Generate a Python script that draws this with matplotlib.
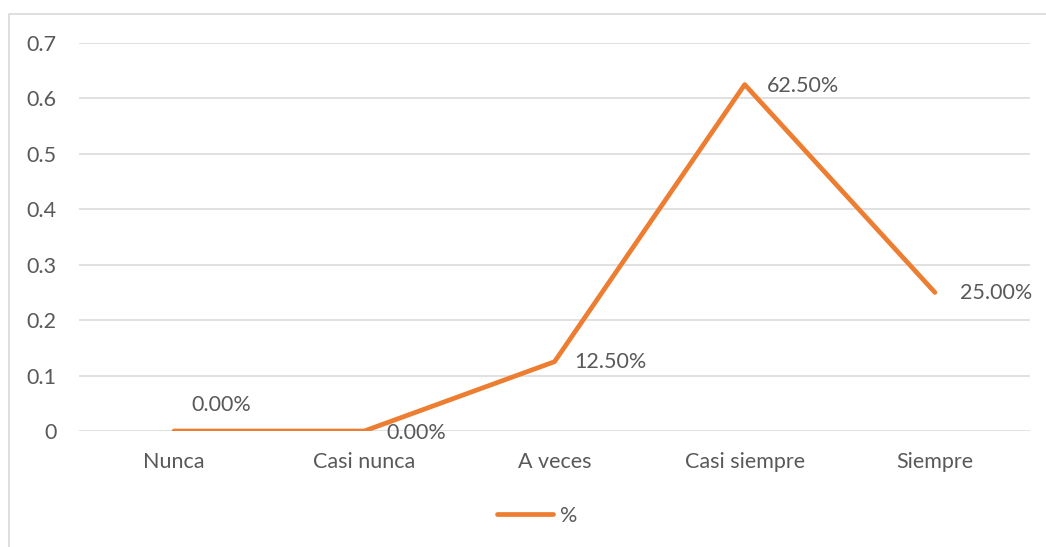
import numpy as np
import matplotlib.pyplot as plt
from matplotlib.lines import Line2D

categories = ['Nunca', 'Casi nunca', 'A veces', 'Casi siempre', 'Siempre']
values = [0.0, 0.0, 0.125, 0.625, 0.25]
labels = ['0.00%', '0.00%', '12.50%', '62.50%', '25.00%']
# label offsets in pixels (dx, dy) from the point, as placed in the original
label_offsets = [(47, 26), (52, -2), (56, 0), (58, -1), (61, -1)]
yticks = [0, 0.1, 0.2, 0.3, 0.4, 0.5, 0.6, 0.7]

text_color = '#595959'
grid_color = '#D9D9D9'
line_color = '#ED7D31'

plt.rcParams['font.family'] = ['Lato', 'DejaVu Sans']

W, H = 1046, 547
fig = plt.figure(figsize=(W / 100, H / 100), dpi=100)
ax = fig.add_axes([79 / W, (H - 431) / H, (1030 - 79) / W, (431 - 43) / H])

x = np.arange(len(categories))
ax.plot(x, values, color=line_color, linewidth=3.4, solid_capstyle='round',
        solid_joinstyle='round', label='%', zorder=3)

for xi, v, lab, (dx, dy) in zip(x, values, labels, label_offsets):
    ax.annotate(lab, (xi, v), xytext=(dx * 0.72, dy * 0.72), textcoords='offset points',
                ha='center', va='center', fontsize=15.5, color=text_color)

ax.set_xlim(-0.5, len(categories) - 0.5)
ax.set_ylim(0, 0.7)
ax.set_yticks(yticks)
ax.set_yticklabels([f'{t:g}' for t in yticks])
ax.set_xticks(x)
ax.set_xticklabels(categories)
ax.tick_params(axis='both', length=0, labelsize=15.5, labelcolor=text_color)
ax.tick_params(axis='y', pad=16)
ax.tick_params(axis='x', pad=15)
ax.grid(axis='y', color=grid_color, linewidth=1.1)
ax.set_axisbelow(True)
for s in ax.spines.values():
    s.set_visible(False)

leg = fig.legend(handles=[Line2D([0], [0], color=line_color, linewidth=3.4,
                                 solid_capstyle='round')],
                 labels=['%'], loc='center', bbox_to_anchor=(537 / W, 1 - 516 / H),
                 frameon=False, fontsize=15.5, handlelength=2.6, handletextpad=0.3)
for t in leg.get_texts():
    t.set_color(text_color)

# chart outer border (only left and top visible in the crop)
fig.add_artist(Line2D([9 / W, 9 / W, 1.0], [0, 1 - 14 / H, 1 - 14 / H],
                      transform=fig.transFigure, color=grid_color, linewidth=1.2))

fig.savefig('out.png', dpi=100)
